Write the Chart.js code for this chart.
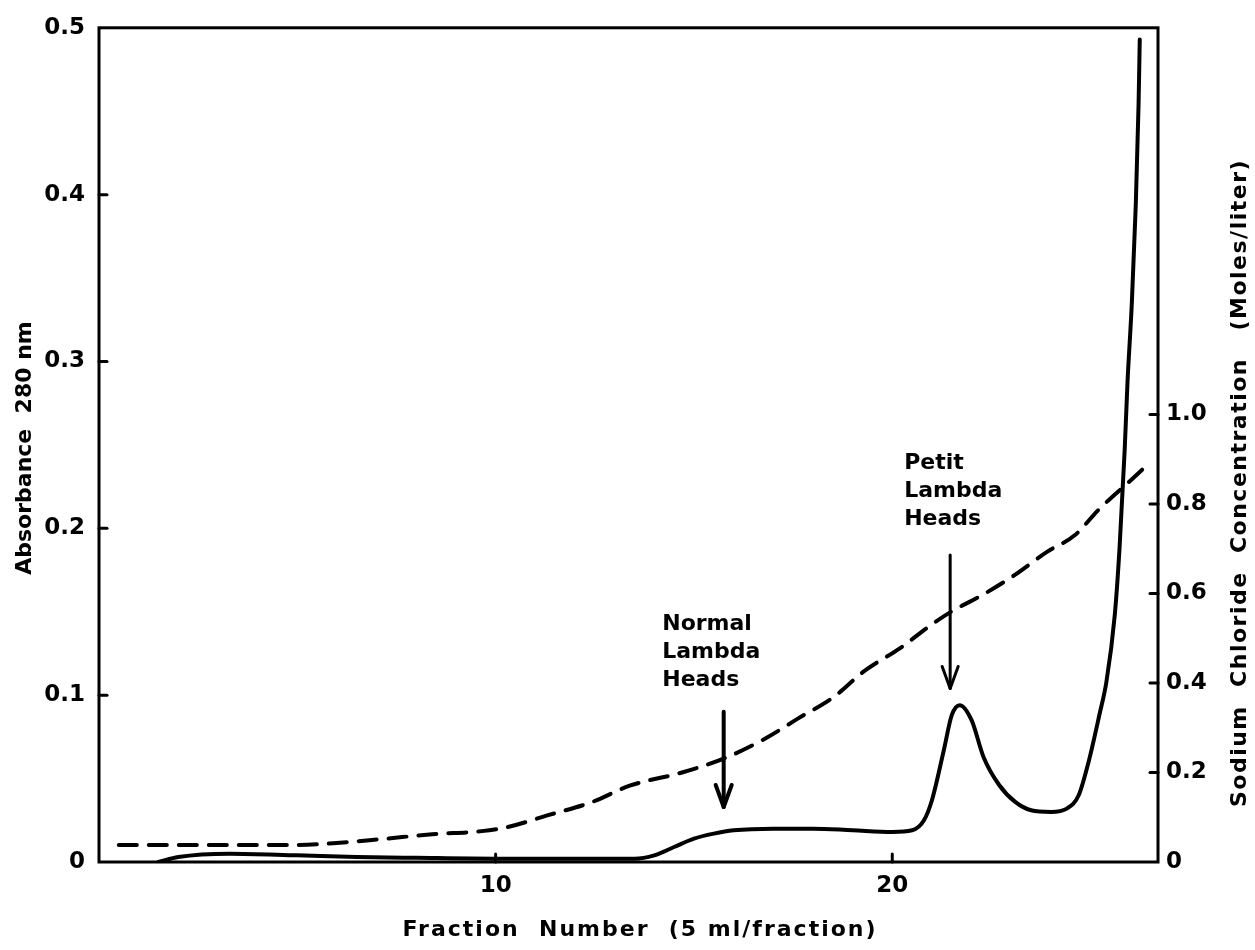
<!DOCTYPE html>
<html>
<head>
<meta charset="utf-8">
<script src="https://cdn.jsdelivr.net/npm/chart.js@4/dist/chart.umd.min.js"></script>
<style>
  html, body { margin: 0; padding: 0; background: #fff; }
  #wrap { width: 1255px; height: 950px; }
</style>
</head>
<body>
<div id="wrap"><canvas id="c" width="1255" height="950"></canvas></div>
<script>
// Absorbance at 280 nm (solid trace), by fraction number
const absFraction = [1.5, 2.0, 3.3, 5.0, 6.5, 8.0, 10.0, 12.0, 13.5, 14.0, 14.5, 15.0, 15.5, 16.0, 17.0, 18.0, 19.0, 20.0, 20.5, 20.8, 21.0, 21.3, 21.5, 21.7, 22.0, 22.3, 22.7, 23.1, 23.5, 24.0, 24.4, 24.7, 24.95, 25.23, 25.40, 25.61, 25.73, 25.86, 25.93, 26.04, 26.14, 26.21, 26.24];
const absorbance  = [0.0, 0.003, 0.005, 0.004, 0.003, 0.0025, 0.002, 0.002, 0.002, 0.004, 0.009, 0.014, 0.017, 0.019, 0.020, 0.020, 0.019, 0.018, 0.019, 0.025, 0.037, 0.067, 0.088, 0.094, 0.085, 0.063, 0.046, 0.036, 0.031, 0.030, 0.032, 0.040, 0.060, 0.089, 0.108, 0.148, 0.188, 0.247, 0.287, 0.335, 0.394, 0.454, 0.493];

// Sodium chloride gradient (dashed trace), mol/L
const saltFraction = [0.5, 3.0, 5.0, 5.9, 7.1, 8.4, 9.65, 10.3, 11.3, 12.4, 13.4, 14.7, 15.8, 16.8, 17.65, 18.5, 19.3, 20.2, 21.0, 21.5, 22.3, 23.1, 23.9, 24.6, 25.2, 26.05, 26.5];
const saltConc     = [0.038, 0.038, 0.038, 0.042, 0.051, 0.062, 0.069, 0.078, 0.104, 0.133, 0.171, 0.200, 0.233, 0.276, 0.322, 0.367, 0.427, 0.478, 0.531, 0.560, 0.598, 0.642, 0.693, 0.730, 0.787, 0.856, 0.893];

// Axis ticks
const xTicks = [10, 20];
const leftTicks = [0, 0.1, 0.2, 0.3, 0.4, 0.5];
const rightTicks = [0, 0.2, 0.4, 0.6, 0.8, 1.0];

// Peak marker labels
const normalLabel = ['Normal', 'Lambda', 'Heads'];
const petitLabel = ['Petit', 'Lambda', 'Heads'];

const FONT = '"DejaVu Sans", sans-serif';
const INK = '#000';

const fmt = v => (v === 0 ? '0' : v.toFixed(1));

const frameAndMarks = {
  id: 'frameAndMarks',
  beforeDatasetsDraw(chart) {
    const { ctx, chartArea: a, scales } = chart;
    ctx.save();
    ctx.strokeStyle = INK;
    ctx.lineWidth = 3;
    ctx.strokeRect(a.left, a.top, a.right - a.left, a.bottom - a.top);
    ctx.lineCap = 'round';
    // inward tick marks
    leftTicks.slice(1, -1).forEach(v => {
      const y = scales.y.getPixelForValue(v);
      ctx.beginPath(); ctx.moveTo(a.left, y); ctx.lineTo(a.left + 8, y); ctx.stroke();
    });
    rightTicks.slice(1).forEach(v => {
      const y = scales.y2.getPixelForValue(v);
      ctx.beginPath(); ctx.moveTo(a.right, y); ctx.lineTo(a.right - 8, y); ctx.stroke();
    });
    xTicks.forEach(v => {
      const x = scales.x.getPixelForValue(v);
      ctx.beginPath(); ctx.moveTo(x, a.bottom); ctx.lineTo(x, a.bottom - 8); ctx.stroke();
    });
    ctx.restore();
  },
  afterDraw(chart) {
    const { ctx, scales } = chart;
    ctx.save();
    ctx.fillStyle = INK;
    ctx.strokeStyle = INK;
    ctx.font = 'bold 22px ' + FONT;
    ctx.textBaseline = 'middle';

    // axis titles
    ctx.textAlign = 'center';
    ctx.save();
    ctx.translate(25, 448);
    ctx.rotate(-Math.PI / 2);
    ctx.fillText('Absorbance  280 nm', 0, 0);
    ctx.restore();

    ctx.save();
    ctx.translate(1240, 483);
    ctx.rotate(-Math.PI / 2);
    ctx.letterSpacing = '1.5px';
    ctx.fillText('Sodium  Chloride  Concentration   (Moles/liter)', 0, 0);
    ctx.restore();

    ctx.save();
    ctx.letterSpacing = '2px';
    ctx.fillText('Fraction  Number  (5 ml/fraction)', 640, 930);
    ctx.restore();

    // peak arrows
    const arrow = (frac, yTop, yTip, width) => {
      const x = scales.x.getPixelForValue(frac);
      const t = scales.y.getPixelForValue(yTop);
      const b = scales.y.getPixelForValue(yTip);
      ctx.lineWidth = width;
      ctx.lineCap = 'round';
      ctx.lineJoin = 'round';
      ctx.beginPath(); ctx.moveTo(x, t); ctx.lineTo(x, b); ctx.stroke();
      ctx.beginPath(); ctx.moveTo(x - 8, b - 22); ctx.lineTo(x, b); ctx.lineTo(x + 8, b - 22); ctx.stroke();
    };
    arrow(15.75, 0.090, 0.033, 4);
    arrow(21.46, 0.184, 0.104, 3);

    // peak labels
    ctx.textAlign = 'left';
    const label = (lines, frac, yVal) => {
      const x = scales.x.getPixelForValue(frac);
      const y = scales.y.getPixelForValue(yVal);
      lines.forEach((s, i) => ctx.fillText(s, x, y + i * 28));
    };
    label(normalLabel, 14.2, 0.1425);
    label(petitLabel, 20.3, 0.2390);
    ctx.restore();
  }
};

new Chart(document.getElementById('c'), {
  type: 'line',
  data: {
    datasets: [
      {
        label: 'Absorbance 280 nm',
        data: absFraction.map((f, i) => ({ x: f, y: absorbance[i] })),
        yAxisID: 'y',
        borderColor: INK,
        borderWidth: 4,
        pointRadius: 0,
        cubicInterpolationMode: 'monotone',
        borderCapStyle: 'round',
        borderJoinStyle: 'round',
        fill: false
      },
      {
        label: 'NaCl (M)',
        data: saltFraction.map((f, i) => ({ x: f, y: saltConc[i] })),
        yAxisID: 'y2',
        borderColor: INK,
        borderWidth: 4,
        borderDash: [18, 12],
        borderCapStyle: 'round',
        pointRadius: 0,
        cubicInterpolationMode: 'monotone',
        fill: false
      }
    ]
  },
  options: {
    responsive: false,
    devicePixelRatio: 1,
    animation: false,
    layout: { padding: { top: 23, left: 0, right: 0, bottom: 0 } },
    plugins: { legend: { display: false }, tooltip: { enabled: false } },
    scales: {
      x: {
        type: 'linear',
        min: 0,
        max: 26.7,
        afterBuildTicks: s => { s.ticks = xTicks.map(v => ({ value: v })); },
        afterFit: s => { s.height = 88; },
        grid: { display: false, drawTicks: false },
        border: { display: false },
        ticks: { color: INK, padding: 10, font: { family: FONT, size: 23, weight: 'bold' }, callback: v => String(v), maxRotation: 0 }
      },
      y: {
        position: 'left',
        min: 0,
        max: 0.5,
        afterBuildTicks: s => { s.ticks = leftTicks.map(v => ({ value: v })); },
        afterFit: s => { s.width = 99; },
        grid: { display: false, drawTicks: false },
        border: { display: false },
        ticks: { color: INK, padding: 14, font: { family: FONT, size: 23, weight: 'bold' }, callback: v => fmt(v) }
      },
      y2: {
        position: 'right',
        min: 0,
        max: 1.864,
        afterBuildTicks: s => { s.ticks = rightTicks.map(v => ({ value: v })); },
        afterFit: s => { s.width = 97; },
        grid: { display: false, drawTicks: false },
        border: { display: false },
        ticks: { color: INK, padding: 8, font: { family: FONT, size: 23, weight: 'bold' }, callback: v => fmt(v) }
      }
    }
  },
  plugins: [frameAndMarks]
});
</script>
</body>
</html>
